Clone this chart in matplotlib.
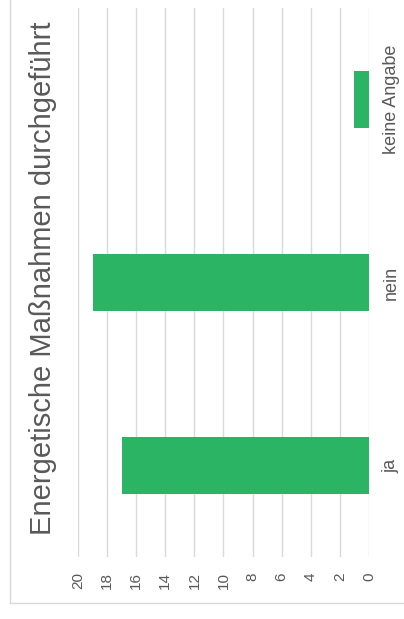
import matplotlib
matplotlib.use("Agg")
import matplotlib.pyplot as plt
from matplotlib.patches import Rectangle

# Daten
categories = ["ja", "nein", "keine Angabe"]
values = [17, 19, 1]
ticks = [0, 2, 4, 6, 8, 10, 12, 14, 16, 18, 20]

plt.rcParams['font.family'] = ['Liberation Sans', 'DejaVu Sans']

W, H = 404, 619
fig = plt.figure(figsize=(W / 100, H / 100), dpi=100)
ax = fig.add_axes([78 / W, 1 - 557 / H, (369 - 78) / W, (557 - 8) / H])

pos = list(range(len(categories)))
ax.barh(pos, values, height=0.31, color="#2bb463", zorder=3)

ax.set_xlim(20, 0)
ax.set_ylim(-0.5, len(categories) - 0.5)
ax.set_xticks(ticks)
ax.set_xticklabels([str(t) for t in ticks], rotation=90, fontsize=11, color="#595959")
ax.set_yticks(pos)
ax.set_yticklabels(categories, rotation=90, va="center", fontsize=13, color="#595959")
ax.yaxis.tick_right()
ax.tick_params(axis="x", length=0, pad=11)
ax.tick_params(axis="y", length=0, pad=10)
ax.grid(axis="x", color="#d9d9d9", lw=1, zorder=0)
for s in ax.spines.values():
    s.set_visible(False)

fig.text(43 / W, 1 - 278 / H, "Energetische Maßnahmen durchgeführt", rotation=90,
         ha="center", va="center", fontsize=21, color="#595959")

# Rahmen
fig.patches.append(Rectangle((10 / W, 1 - 603 / H), 1, 1, transform=fig.transFigure,
                             fill=False, ec="#d9d9d9", lw=1))

fig.savefig("out.png", dpi=100)
